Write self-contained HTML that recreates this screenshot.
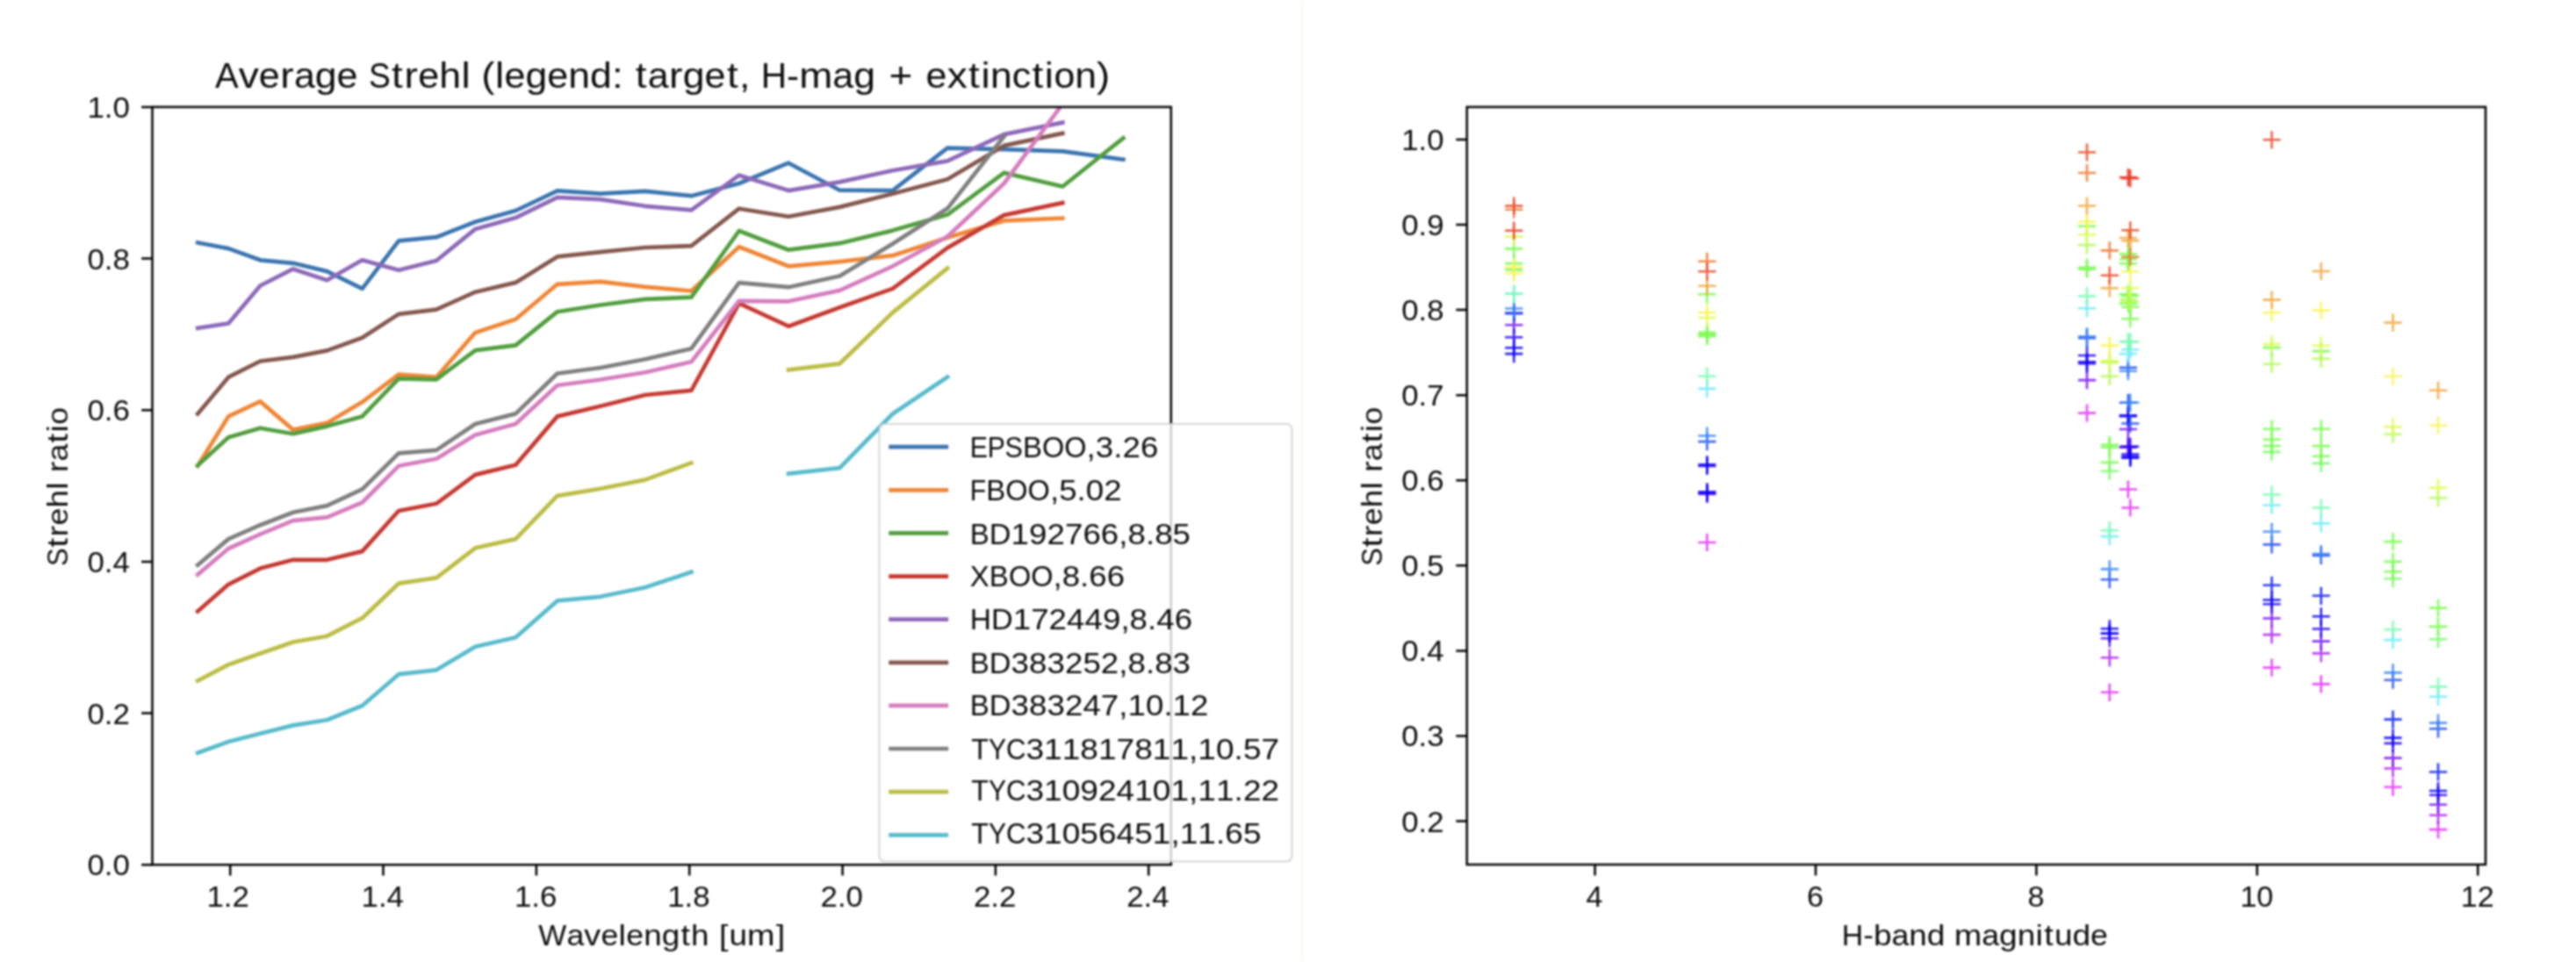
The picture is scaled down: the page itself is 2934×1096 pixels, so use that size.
<!DOCTYPE html>
<html lang="en"><head><meta charset="utf-8"><title>Strehl ratio charts</title>
<style>html,body{margin:0;padding:0;background:#fff;}body{width:2934px;height:1096px;overflow:hidden;}svg{display:block;filter:blur(0.8px);}text{font-family:"Liberation Sans",sans-serif;fill:#0d0d0d;}</style></head><body>
<svg width="2934" height="1096" viewBox="0 0 2934 1096">
<defs><clipPath id="cl"><rect x="173.5" y="121.9" width="1160.3" height="863.3"/></clipPath></defs>
<rect width="2934" height="1096" fill="#ffffff"/>
<rect x="1481.5" y="0" width="2" height="1096" fill="#fcfaee"/>
<g id="left">
<g clip-path="url(#cl)" fill="none" stroke-width="4.7" stroke-linejoin="round" stroke-linecap="square">
<path d="M225.2 276.5 L260.2 283.1 L296.4 296.3 L333.8 299.8 L372.5 309.1 L412.6 328.9 L454.1 274.4 L497.0 270.2 L541.4 252.8 L587.3 240.0 L634.8 217.4 L683.9 220.7 L734.8 217.8 L787.4 223.2 L841.8 209.0 L898.1 185.7 L956.4 216.7 L1016.7 217.2 L1079.1 168.7 L1143.6 170.2 L1210.3 172.4 L1279.4 181.7" stroke="#3b75af"/>
<path d="M225.2 530.8 L260.2 474.4 L296.4 457.4 L333.8 489.6 L372.5 481.9 L412.6 458.1 L454.1 426.6 L497.0 429.7 L541.4 378.9 L587.3 363.8 L634.8 323.8 L683.9 320.8 L734.8 326.8 L787.4 331.5 L841.8 281.2 L898.1 303.3 L956.4 298.2 L1016.7 291.2 L1079.1 270.7 L1143.6 251.4 L1210.3 248.6" stroke="#ef8636"/>
<path d="M225.2 530.3 L260.2 498.2 L296.4 487.7 L333.8 494.2 L372.5 485.6 L412.6 474.4 L454.1 431.3 L497.0 432.4 L541.4 399.2 L587.3 393.3 L634.8 355.2 L683.9 347.5 L734.8 340.9 L787.4 338.7 L841.8 263.0 L898.1 284.7 L956.4 277.2 L1016.7 262.6 L1079.1 244.6 L1143.6 196.9 L1210.3 212.5 L1279.4 157.3" stroke="#519e3e"/>
<path d="M225.2 696.5 L260.2 665.8 L296.4 647.6 L333.8 637.8 L372.5 637.8 L412.6 628.1 L454.1 582.0 L497.0 573.8 L541.4 540.9 L587.3 529.8 L634.8 474.4 L683.9 462.7 L734.8 450.0 L787.4 444.9 L841.8 345.6 L898.1 371.7 L956.4 350.2 L1016.7 328.9 L1079.1 282.4 L1143.6 245.1 L1210.3 231.1" stroke="#c53a32"/>
<path d="M225.2 373.8 L260.2 368.5 L296.4 325.5 L333.8 306.4 L372.5 319.2 L412.6 296.3 L454.1 307.7 L497.0 297.0 L541.4 260.9 L587.3 248.1 L634.8 224.8 L683.9 227.1 L734.8 234.8 L787.4 239.4 L841.8 199.7 L898.1 217.1 L956.4 207.4 L1016.7 194.2 L1079.1 183.4 L1143.6 153.1 L1210.3 139.6" stroke="#8d69b8"/>
<path d="M225.2 471.4 L260.2 429.7 L296.4 411.5 L333.8 406.9 L372.5 399.4 L412.6 384.7 L454.1 357.9 L497.0 352.6 L541.4 332.7 L587.3 321.9 L634.8 292.4 L683.9 287.2 L734.8 282.0 L787.4 280.1 L841.8 237.7 L898.1 246.7 L956.4 235.9 L1016.7 220.7 L1079.1 204.3 L1143.6 165.9 L1210.3 151.9" stroke="#84584e"/>
<path d="M225.2 654.6 L260.2 625.0 L296.4 608.7 L333.8 593.1 L372.5 589.4 L412.6 572.5 L454.1 530.8 L497.0 522.8 L541.4 495.4 L587.3 483.0 L634.8 439.0 L683.9 432.5 L734.8 424.3 L787.4 412.3 L841.8 342.8 L898.1 343.3 L956.4 330.9 L1016.7 303.3 L1079.1 269.5 L1143.6 209.0 L1210.3 118.4" stroke="#d57dbe"/>
<path d="M225.2 643.7 L260.2 614.1 L296.4 598.2 L333.8 583.8 L372.5 576.1 L412.6 557.4 L454.1 516.3 L497.0 512.9 L541.4 483.0 L587.3 471.4 L634.8 425.5 L683.9 419.0 L734.8 409.2 L787.4 397.2 L841.8 322.2 L898.1 327.2 L956.4 314.5 L1016.7 277.7 L1079.1 237.6 L1143.6 155.4" stroke="#7f7f7f"/>
<path d="M225.2 775.6 L260.2 757.2 L296.4 744.5 L333.8 731.5 L372.5 724.7 L412.6 704.2 L454.1 664.7 L497.0 658.4 L541.4 624.3 L587.3 614.1 L634.8 564.9 L683.9 556.7 L734.8 546.6 L787.4 527.4 M898.1 421.3 L956.4 414.3 L1016.7 356.1 L1079.1 305.6" stroke="#bcbd45"/>
<path d="M225.2 857.8 L260.2 845.0 L296.4 835.7 L333.8 826.4 L372.5 820.3 L412.6 804.0 L454.1 768.2 L497.0 763.3 L541.4 736.8 L587.3 726.3 L634.8 684.4 L683.9 679.8 L734.8 669.2 L787.4 651.8 M898.1 539.7 L956.4 533.2 L1016.7 471.5 L1079.1 429.5" stroke="#58bbcc"/>
</g>
<rect x="173.5" y="121.9" width="1160.3" height="863.3" fill="none" stroke="#000" stroke-width="2.5"/>
<path d="M262.2 985.2 v12.4 M436.5 985.2 v12.4 M610.9 985.2 v12.4 M785.2 985.2 v12.4 M959.6 985.2 v12.4 M1133.9 985.2 v12.4 M1308.2 985.2 v12.4 M173.5 985.2 h-12.4 M173.5 812.5 h-12.4 M173.5 639.9 h-12.4 M173.5 467.2 h-12.4 M173.5 294.6 h-12.4 M173.5 121.9 h-12.4" stroke="#000" stroke-width="2.5" fill="none"/>
<text x="235.4" y="1033.4" font-size="33.5" textLength="19.4" lengthAdjust="spacingAndGlyphs">1</text>
<text x="254.8" y="1033.4" font-size="33.5" textLength="9.7" lengthAdjust="spacingAndGlyphs">.</text>
<text x="264.4" y="1033.4" font-size="33.5" textLength="19.4" lengthAdjust="spacingAndGlyphs">2</text>
<text x="411.5" y="1033.4" font-size="33.5" textLength="19.4" lengthAdjust="spacingAndGlyphs">1</text>
<text x="430.9" y="1033.4" font-size="33.5" textLength="9.7" lengthAdjust="spacingAndGlyphs">.</text>
<text x="440.6" y="1033.4" font-size="33.5" textLength="19.4" lengthAdjust="spacingAndGlyphs">4</text>
<text x="585.9" y="1033.4" font-size="33.5" textLength="19.4" lengthAdjust="spacingAndGlyphs">1</text>
<text x="605.2" y="1033.4" font-size="33.5" textLength="9.7" lengthAdjust="spacingAndGlyphs">.</text>
<text x="614.9" y="1033.4" font-size="33.5" textLength="19.4" lengthAdjust="spacingAndGlyphs">6</text>
<text x="760.2" y="1033.4" font-size="33.5" textLength="19.4" lengthAdjust="spacingAndGlyphs">1</text>
<text x="779.6" y="1033.4" font-size="33.5" textLength="9.7" lengthAdjust="spacingAndGlyphs">.</text>
<text x="789.3" y="1033.4" font-size="33.5" textLength="19.4" lengthAdjust="spacingAndGlyphs">8</text>
<text x="934.5" y="1033.4" font-size="33.5" textLength="19.4" lengthAdjust="spacingAndGlyphs">2</text>
<text x="953.9" y="1033.4" font-size="33.5" textLength="9.7" lengthAdjust="spacingAndGlyphs">.</text>
<text x="963.6" y="1033.4" font-size="33.5" textLength="19.4" lengthAdjust="spacingAndGlyphs">0</text>
<text x="1108.9" y="1033.4" font-size="33.5" textLength="19.4" lengthAdjust="spacingAndGlyphs">2</text>
<text x="1128.3" y="1033.4" font-size="33.5" textLength="9.7" lengthAdjust="spacingAndGlyphs">.</text>
<text x="1137.9" y="1033.4" font-size="33.5" textLength="19.4" lengthAdjust="spacingAndGlyphs">2</text>
<text x="1283.2" y="1033.4" font-size="33.5" textLength="19.4" lengthAdjust="spacingAndGlyphs">2</text>
<text x="1302.6" y="1033.4" font-size="33.5" textLength="9.7" lengthAdjust="spacingAndGlyphs">.</text>
<text x="1312.3" y="1033.4" font-size="33.5" textLength="19.4" lengthAdjust="spacingAndGlyphs">4</text>
<text x="99.4" y="997.2" font-size="33.5" textLength="19.4" lengthAdjust="spacingAndGlyphs">0</text>
<text x="118.7" y="997.2" font-size="33.5" textLength="9.7" lengthAdjust="spacingAndGlyphs">.</text>
<text x="128.4" y="997.2" font-size="33.5" textLength="19.4" lengthAdjust="spacingAndGlyphs">0</text>
<text x="99.4" y="824.5" font-size="33.5" textLength="19.4" lengthAdjust="spacingAndGlyphs">0</text>
<text x="118.7" y="824.5" font-size="33.5" textLength="9.7" lengthAdjust="spacingAndGlyphs">.</text>
<text x="128.4" y="824.5" font-size="33.5" textLength="19.4" lengthAdjust="spacingAndGlyphs">2</text>
<text x="99.4" y="651.9" font-size="33.5" textLength="19.4" lengthAdjust="spacingAndGlyphs">0</text>
<text x="118.7" y="651.9" font-size="33.5" textLength="9.7" lengthAdjust="spacingAndGlyphs">.</text>
<text x="128.4" y="651.9" font-size="33.5" textLength="19.4" lengthAdjust="spacingAndGlyphs">4</text>
<text x="99.4" y="479.2" font-size="33.5" textLength="19.4" lengthAdjust="spacingAndGlyphs">0</text>
<text x="118.7" y="479.2" font-size="33.5" textLength="9.7" lengthAdjust="spacingAndGlyphs">.</text>
<text x="128.4" y="479.2" font-size="33.5" textLength="19.4" lengthAdjust="spacingAndGlyphs">6</text>
<text x="99.4" y="306.6" font-size="33.5" textLength="19.4" lengthAdjust="spacingAndGlyphs">0</text>
<text x="118.7" y="306.6" font-size="33.5" textLength="9.7" lengthAdjust="spacingAndGlyphs">.</text>
<text x="128.4" y="306.6" font-size="33.5" textLength="19.4" lengthAdjust="spacingAndGlyphs">8</text>
<text x="99.4" y="133.9" font-size="33.5" textLength="19.4" lengthAdjust="spacingAndGlyphs">1</text>
<text x="118.7" y="133.9" font-size="33.5" textLength="9.7" lengthAdjust="spacingAndGlyphs">.</text>
<text x="128.4" y="133.9" font-size="33.5" textLength="19.4" lengthAdjust="spacingAndGlyphs">0</text>
<text x="613.3" y="1077.0" font-size="33.5" textLength="32.0" lengthAdjust="spacingAndGlyphs">W</text>
<text x="645.4" y="1077.0" font-size="33.5" textLength="19.9" lengthAdjust="spacingAndGlyphs">a</text>
<text x="665.3" y="1077.0" font-size="33.5" textLength="18.9" lengthAdjust="spacingAndGlyphs">v</text>
<text x="684.4" y="1077.0" font-size="33.5" textLength="19.9" lengthAdjust="spacingAndGlyphs">e</text>
<text x="704.6" y="1077.0" font-size="33.5" textLength="8.4" lengthAdjust="spacingAndGlyphs">l</text>
<text x="713.3" y="1077.0" font-size="33.5" textLength="19.9" lengthAdjust="spacingAndGlyphs">e</text>
<text x="733.3" y="1077.0" font-size="33.5" textLength="20.5" lengthAdjust="spacingAndGlyphs">n</text>
<text x="753.8" y="1077.0" font-size="33.5" textLength="20.6" lengthAdjust="spacingAndGlyphs">g</text>
<text x="775.5" y="1077.0" font-size="33.5" textLength="10.5" lengthAdjust="spacingAndGlyphs">t</text>
<text x="787.1" y="1077.0" font-size="33.5" textLength="20.5" lengthAdjust="spacingAndGlyphs">h</text>
<text x="819.0" y="1077.0" font-size="33.5" textLength="10.5" lengthAdjust="spacingAndGlyphs">[</text>
<text x="830.5" y="1077.0" font-size="33.5" textLength="20.5" lengthAdjust="spacingAndGlyphs">u</text>
<text x="851.1" y="1077.0" font-size="33.5" textLength="31.5" lengthAdjust="spacingAndGlyphs">m</text>
<text x="883.7" y="1077.0" font-size="33.5" textLength="10.5" lengthAdjust="spacingAndGlyphs">]</text>
<g transform="rotate(-90 76.5 554.5)">
<text x="-14.0" y="554.5" font-size="33.5" textLength="20.6" lengthAdjust="spacingAndGlyphs">S</text>
<text x="7.6" y="554.5" font-size="33.5" textLength="10.5" lengthAdjust="spacingAndGlyphs">t</text>
<text x="19.6" y="554.5" font-size="33.5" textLength="12.6" lengthAdjust="spacingAndGlyphs">r</text>
<text x="32.6" y="554.5" font-size="33.5" textLength="19.9" lengthAdjust="spacingAndGlyphs">e</text>
<text x="52.5" y="554.5" font-size="33.5" textLength="20.5" lengthAdjust="spacingAndGlyphs">h</text>
<text x="73.3" y="554.5" font-size="33.5" textLength="8.4" lengthAdjust="spacingAndGlyphs">l</text>
<text x="92.7" y="554.5" font-size="33.5" textLength="12.6" lengthAdjust="spacingAndGlyphs">r</text>
<text x="105.6" y="554.5" font-size="33.5" textLength="19.9" lengthAdjust="spacingAndGlyphs">a</text>
<text x="126.6" y="554.5" font-size="33.5" textLength="10.5" lengthAdjust="spacingAndGlyphs">t</text>
<text x="138.5" y="554.5" font-size="33.5" textLength="8.4" lengthAdjust="spacingAndGlyphs">i</text>
<text x="147.2" y="554.5" font-size="33.5" textLength="19.8" lengthAdjust="spacingAndGlyphs">o</text>
</g>
<text x="244.9" y="99.8" font-size="40.8" textLength="26.7" lengthAdjust="spacingAndGlyphs">A</text>
<text x="271.7" y="99.8" font-size="40.8" textLength="23.1" lengthAdjust="spacingAndGlyphs">v</text>
<text x="294.8" y="99.8" font-size="40.8" textLength="24.0" lengthAdjust="spacingAndGlyphs">e</text>
<text x="319.2" y="99.8" font-size="40.8" textLength="15.4" lengthAdjust="spacingAndGlyphs">r</text>
<text x="334.9" y="99.8" font-size="40.8" textLength="23.9" lengthAdjust="spacingAndGlyphs">a</text>
<text x="358.8" y="99.8" font-size="40.8" textLength="24.8" lengthAdjust="spacingAndGlyphs">g</text>
<text x="383.6" y="99.8" font-size="40.8" textLength="24.0" lengthAdjust="spacingAndGlyphs">e</text>
<text x="420.1" y="99.8" font-size="40.8" textLength="24.8" lengthAdjust="spacingAndGlyphs">S</text>
<text x="446.1" y="99.8" font-size="40.8" textLength="12.8" lengthAdjust="spacingAndGlyphs">t</text>
<text x="460.5" y="99.8" font-size="40.8" textLength="15.4" lengthAdjust="spacingAndGlyphs">r</text>
<text x="476.3" y="99.8" font-size="40.8" textLength="24.0" lengthAdjust="spacingAndGlyphs">e</text>
<text x="500.3" y="99.8" font-size="40.8" textLength="24.8" lengthAdjust="spacingAndGlyphs">h</text>
<text x="525.4" y="99.8" font-size="40.8" textLength="10.2" lengthAdjust="spacingAndGlyphs">l</text>
<text x="548.3" y="99.8" font-size="40.8" textLength="15.2" lengthAdjust="spacingAndGlyphs">(</text>
<text x="563.9" y="99.8" font-size="40.8" textLength="10.2" lengthAdjust="spacingAndGlyphs">l</text>
<text x="574.4" y="99.8" font-size="40.8" textLength="24.0" lengthAdjust="spacingAndGlyphs">e</text>
<text x="598.5" y="99.8" font-size="40.8" textLength="24.8" lengthAdjust="spacingAndGlyphs">g</text>
<text x="623.3" y="99.8" font-size="40.8" textLength="24.0" lengthAdjust="spacingAndGlyphs">e</text>
<text x="647.3" y="99.8" font-size="40.8" textLength="24.8" lengthAdjust="spacingAndGlyphs">n</text>
<text x="672.1" y="99.8" font-size="40.8" textLength="24.8" lengthAdjust="spacingAndGlyphs">d</text>
<text x="697.0" y="99.8" font-size="40.8" textLength="12.8" lengthAdjust="spacingAndGlyphs">:</text>
<text x="723.7" y="99.8" font-size="40.8" textLength="12.8" lengthAdjust="spacingAndGlyphs">t</text>
<text x="737.8" y="99.8" font-size="40.8" textLength="23.9" lengthAdjust="spacingAndGlyphs">a</text>
<text x="762.1" y="99.8" font-size="40.8" textLength="15.4" lengthAdjust="spacingAndGlyphs">r</text>
<text x="777.8" y="99.8" font-size="40.8" textLength="24.8" lengthAdjust="spacingAndGlyphs">g</text>
<text x="802.6" y="99.8" font-size="40.8" textLength="24.0" lengthAdjust="spacingAndGlyphs">e</text>
<text x="827.9" y="99.8" font-size="40.8" textLength="12.8" lengthAdjust="spacingAndGlyphs">t</text>
<text x="841.9" y="99.8" font-size="40.8" textLength="12.4" lengthAdjust="spacingAndGlyphs">,</text>
<text x="866.8" y="99.8" font-size="40.8" textLength="29.4" lengthAdjust="spacingAndGlyphs">H</text>
<text x="896.1" y="99.8" font-size="40.8" textLength="14.1" lengthAdjust="spacingAndGlyphs">-</text>
<text x="910.2" y="99.8" font-size="40.8" textLength="38.1" lengthAdjust="spacingAndGlyphs">m</text>
<text x="948.3" y="99.8" font-size="40.8" textLength="23.9" lengthAdjust="spacingAndGlyphs">a</text>
<text x="972.2" y="99.8" font-size="40.8" textLength="24.8" lengthAdjust="spacingAndGlyphs">g</text>
<text x="1012.4" y="99.8" font-size="40.8" textLength="26.9" lengthAdjust="spacingAndGlyphs">+</text>
<text x="1054.6" y="99.8" font-size="40.8" textLength="24.0" lengthAdjust="spacingAndGlyphs">e</text>
<text x="1078.7" y="99.8" font-size="40.8" textLength="23.1" lengthAdjust="spacingAndGlyphs">x</text>
<text x="1103.0" y="99.8" font-size="40.8" textLength="12.8" lengthAdjust="spacingAndGlyphs">t</text>
<text x="1117.4" y="99.8" font-size="40.8" textLength="10.2" lengthAdjust="spacingAndGlyphs">i</text>
<text x="1127.9" y="99.8" font-size="40.8" textLength="24.8" lengthAdjust="spacingAndGlyphs">n</text>
<text x="1152.7" y="99.8" font-size="40.8" textLength="21.5" lengthAdjust="spacingAndGlyphs">c</text>
<text x="1175.4" y="99.8" font-size="40.8" textLength="12.8" lengthAdjust="spacingAndGlyphs">t</text>
<text x="1189.8" y="99.8" font-size="40.8" textLength="10.2" lengthAdjust="spacingAndGlyphs">i</text>
<text x="1200.4" y="99.8" font-size="40.8" textLength="23.9" lengthAdjust="spacingAndGlyphs">o</text>
<text x="1224.3" y="99.8" font-size="40.8" textLength="24.8" lengthAdjust="spacingAndGlyphs">n</text>
<text x="1249.0" y="99.8" font-size="40.8" textLength="15.2" lengthAdjust="spacingAndGlyphs">)</text>
<rect x="1001.5" y="483.0" width="470.0" height="498.5" rx="6" ry="6" fill="#ffffff" fill-opacity="0.8" stroke="#cccccc" stroke-opacity="0.8" stroke-width="2.0"/>
<path d="M1014.6 509.2 H1077.8" stroke="#3b75af" stroke-width="4.7" stroke-linecap="square" fill="none"/>
<text x="1104.8" y="520.9" font-size="33.5" textLength="20.3" lengthAdjust="spacingAndGlyphs">E</text>
<text x="1124.7" y="520.9" font-size="33.5" textLength="20.1" lengthAdjust="spacingAndGlyphs">P</text>
<text x="1144.5" y="520.9" font-size="33.5" textLength="20.4" lengthAdjust="spacingAndGlyphs">S</text>
<text x="1164.9" y="520.9" font-size="33.5" textLength="22.0" lengthAdjust="spacingAndGlyphs">B</text>
<text x="1186.9" y="520.9" font-size="33.5" textLength="25.3" lengthAdjust="spacingAndGlyphs">O</text>
<text x="1212.2" y="520.9" font-size="33.5" textLength="25.3" lengthAdjust="spacingAndGlyphs">O</text>
<text x="1237.5" y="520.9" font-size="33.5" textLength="10.2" lengthAdjust="spacingAndGlyphs">,</text>
<text x="1247.8" y="520.9" font-size="33.5" textLength="20.4" lengthAdjust="spacingAndGlyphs">3</text>
<text x="1268.2" y="520.9" font-size="33.5" textLength="10.2" lengthAdjust="spacingAndGlyphs">.</text>
<text x="1278.4" y="520.9" font-size="33.5" textLength="20.4" lengthAdjust="spacingAndGlyphs">2</text>
<text x="1298.9" y="520.9" font-size="33.5" textLength="20.4" lengthAdjust="spacingAndGlyphs">6</text>
<path d="M1014.6 558.3 H1077.8" stroke="#ef8636" stroke-width="4.7" stroke-linecap="square" fill="none"/>
<text x="1104.8" y="570.4" font-size="33.5" textLength="18.5" lengthAdjust="spacingAndGlyphs">F</text>
<text x="1123.3" y="570.4" font-size="33.5" textLength="22.0" lengthAdjust="spacingAndGlyphs">B</text>
<text x="1145.3" y="570.4" font-size="33.5" textLength="25.3" lengthAdjust="spacingAndGlyphs">O</text>
<text x="1170.6" y="570.4" font-size="33.5" textLength="25.3" lengthAdjust="spacingAndGlyphs">O</text>
<text x="1195.9" y="570.4" font-size="33.5" textLength="10.2" lengthAdjust="spacingAndGlyphs">,</text>
<text x="1206.2" y="570.4" font-size="33.5" textLength="20.4" lengthAdjust="spacingAndGlyphs">5</text>
<text x="1226.6" y="570.4" font-size="33.5" textLength="10.2" lengthAdjust="spacingAndGlyphs">.</text>
<text x="1236.8" y="570.4" font-size="33.5" textLength="20.4" lengthAdjust="spacingAndGlyphs">0</text>
<text x="1257.3" y="570.4" font-size="33.5" textLength="20.4" lengthAdjust="spacingAndGlyphs">2</text>
<path d="M1014.6 607.4 H1077.8" stroke="#519e3e" stroke-width="4.7" stroke-linecap="square" fill="none"/>
<text x="1104.8" y="619.5" font-size="33.5" textLength="22.0" lengthAdjust="spacingAndGlyphs">B</text>
<text x="1126.8" y="619.5" font-size="33.5" textLength="24.7" lengthAdjust="spacingAndGlyphs">D</text>
<text x="1151.6" y="619.5" font-size="33.5" textLength="20.4" lengthAdjust="spacingAndGlyphs">1</text>
<text x="1172.0" y="619.5" font-size="33.5" textLength="20.4" lengthAdjust="spacingAndGlyphs">9</text>
<text x="1192.5" y="619.5" font-size="33.5" textLength="20.4" lengthAdjust="spacingAndGlyphs">2</text>
<text x="1212.9" y="619.5" font-size="33.5" textLength="20.4" lengthAdjust="spacingAndGlyphs">7</text>
<text x="1233.4" y="619.5" font-size="33.5" textLength="20.4" lengthAdjust="spacingAndGlyphs">6</text>
<text x="1253.8" y="619.5" font-size="33.5" textLength="20.4" lengthAdjust="spacingAndGlyphs">6</text>
<text x="1274.3" y="619.5" font-size="33.5" textLength="10.2" lengthAdjust="spacingAndGlyphs">,</text>
<text x="1284.5" y="619.5" font-size="33.5" textLength="20.4" lengthAdjust="spacingAndGlyphs">8</text>
<text x="1305.0" y="619.5" font-size="33.5" textLength="10.2" lengthAdjust="spacingAndGlyphs">.</text>
<text x="1315.2" y="619.5" font-size="33.5" textLength="20.4" lengthAdjust="spacingAndGlyphs">8</text>
<text x="1335.6" y="619.5" font-size="33.5" textLength="20.4" lengthAdjust="spacingAndGlyphs">5</text>
<path d="M1014.6 656.6 H1077.8" stroke="#c53a32" stroke-width="4.7" stroke-linecap="square" fill="none"/>
<text x="1104.8" y="668.3" font-size="33.5" textLength="22.0" lengthAdjust="spacingAndGlyphs">X</text>
<text x="1126.8" y="668.3" font-size="33.5" textLength="22.0" lengthAdjust="spacingAndGlyphs">B</text>
<text x="1148.9" y="668.3" font-size="33.5" textLength="25.3" lengthAdjust="spacingAndGlyphs">O</text>
<text x="1174.2" y="668.3" font-size="33.5" textLength="25.3" lengthAdjust="spacingAndGlyphs">O</text>
<text x="1199.5" y="668.3" font-size="33.5" textLength="10.2" lengthAdjust="spacingAndGlyphs">,</text>
<text x="1209.7" y="668.3" font-size="33.5" textLength="20.4" lengthAdjust="spacingAndGlyphs">8</text>
<text x="1230.1" y="668.3" font-size="33.5" textLength="10.2" lengthAdjust="spacingAndGlyphs">.</text>
<text x="1240.3" y="668.3" font-size="33.5" textLength="20.4" lengthAdjust="spacingAndGlyphs">6</text>
<text x="1260.8" y="668.3" font-size="33.5" textLength="20.4" lengthAdjust="spacingAndGlyphs">6</text>
<path d="M1014.6 705.7 H1077.8" stroke="#8d69b8" stroke-width="4.7" stroke-linecap="square" fill="none"/>
<text x="1104.8" y="717.2" font-size="33.5" textLength="24.2" lengthAdjust="spacingAndGlyphs">H</text>
<text x="1129.0" y="717.2" font-size="33.5" textLength="24.7" lengthAdjust="spacingAndGlyphs">D</text>
<text x="1153.7" y="717.2" font-size="33.5" textLength="20.4" lengthAdjust="spacingAndGlyphs">1</text>
<text x="1174.2" y="717.2" font-size="33.5" textLength="20.4" lengthAdjust="spacingAndGlyphs">7</text>
<text x="1194.6" y="717.2" font-size="33.5" textLength="20.4" lengthAdjust="spacingAndGlyphs">2</text>
<text x="1215.1" y="717.2" font-size="33.5" textLength="20.4" lengthAdjust="spacingAndGlyphs">4</text>
<text x="1235.5" y="717.2" font-size="33.5" textLength="20.4" lengthAdjust="spacingAndGlyphs">4</text>
<text x="1256.0" y="717.2" font-size="33.5" textLength="20.4" lengthAdjust="spacingAndGlyphs">9</text>
<text x="1276.4" y="717.2" font-size="33.5" textLength="10.2" lengthAdjust="spacingAndGlyphs">,</text>
<text x="1286.6" y="717.2" font-size="33.5" textLength="20.4" lengthAdjust="spacingAndGlyphs">8</text>
<text x="1307.1" y="717.2" font-size="33.5" textLength="10.2" lengthAdjust="spacingAndGlyphs">.</text>
<text x="1317.3" y="717.2" font-size="33.5" textLength="20.4" lengthAdjust="spacingAndGlyphs">4</text>
<text x="1337.7" y="717.2" font-size="33.5" textLength="20.4" lengthAdjust="spacingAndGlyphs">6</text>
<path d="M1014.6 754.8 H1077.8" stroke="#84584e" stroke-width="4.7" stroke-linecap="square" fill="none"/>
<text x="1104.8" y="766.6" font-size="33.5" textLength="22.0" lengthAdjust="spacingAndGlyphs">B</text>
<text x="1126.8" y="766.6" font-size="33.5" textLength="24.7" lengthAdjust="spacingAndGlyphs">D</text>
<text x="1151.6" y="766.6" font-size="33.5" textLength="20.4" lengthAdjust="spacingAndGlyphs">3</text>
<text x="1172.0" y="766.6" font-size="33.5" textLength="20.4" lengthAdjust="spacingAndGlyphs">8</text>
<text x="1192.5" y="766.6" font-size="33.5" textLength="20.4" lengthAdjust="spacingAndGlyphs">3</text>
<text x="1212.9" y="766.6" font-size="33.5" textLength="20.4" lengthAdjust="spacingAndGlyphs">2</text>
<text x="1233.4" y="766.6" font-size="33.5" textLength="20.4" lengthAdjust="spacingAndGlyphs">5</text>
<text x="1253.8" y="766.6" font-size="33.5" textLength="20.4" lengthAdjust="spacingAndGlyphs">2</text>
<text x="1274.3" y="766.6" font-size="33.5" textLength="10.2" lengthAdjust="spacingAndGlyphs">,</text>
<text x="1284.5" y="766.6" font-size="33.5" textLength="20.4" lengthAdjust="spacingAndGlyphs">8</text>
<text x="1305.0" y="766.6" font-size="33.5" textLength="10.2" lengthAdjust="spacingAndGlyphs">.</text>
<text x="1315.2" y="766.6" font-size="33.5" textLength="20.4" lengthAdjust="spacingAndGlyphs">8</text>
<text x="1335.6" y="766.6" font-size="33.5" textLength="20.4" lengthAdjust="spacingAndGlyphs">3</text>
<path d="M1014.6 803.9 H1077.8" stroke="#d57dbe" stroke-width="4.7" stroke-linecap="square" fill="none"/>
<text x="1104.8" y="815.4" font-size="33.5" textLength="22.0" lengthAdjust="spacingAndGlyphs">B</text>
<text x="1126.8" y="815.4" font-size="33.5" textLength="24.7" lengthAdjust="spacingAndGlyphs">D</text>
<text x="1151.6" y="815.4" font-size="33.5" textLength="20.4" lengthAdjust="spacingAndGlyphs">3</text>
<text x="1172.0" y="815.4" font-size="33.5" textLength="20.4" lengthAdjust="spacingAndGlyphs">8</text>
<text x="1192.5" y="815.4" font-size="33.5" textLength="20.4" lengthAdjust="spacingAndGlyphs">3</text>
<text x="1212.9" y="815.4" font-size="33.5" textLength="20.4" lengthAdjust="spacingAndGlyphs">2</text>
<text x="1233.4" y="815.4" font-size="33.5" textLength="20.4" lengthAdjust="spacingAndGlyphs">4</text>
<text x="1253.8" y="815.4" font-size="33.5" textLength="20.4" lengthAdjust="spacingAndGlyphs">7</text>
<text x="1274.3" y="815.4" font-size="33.5" textLength="10.2" lengthAdjust="spacingAndGlyphs">,</text>
<text x="1284.5" y="815.4" font-size="33.5" textLength="20.4" lengthAdjust="spacingAndGlyphs">1</text>
<text x="1305.0" y="815.4" font-size="33.5" textLength="20.4" lengthAdjust="spacingAndGlyphs">0</text>
<text x="1325.4" y="815.4" font-size="33.5" textLength="10.2" lengthAdjust="spacingAndGlyphs">.</text>
<text x="1335.6" y="815.4" font-size="33.5" textLength="20.4" lengthAdjust="spacingAndGlyphs">1</text>
<text x="1356.1" y="815.4" font-size="33.5" textLength="20.4" lengthAdjust="spacingAndGlyphs">2</text>
<path d="M1014.6 853.0 H1077.8" stroke="#7f7f7f" stroke-width="4.7" stroke-linecap="square" fill="none"/>
<text x="1106.3" y="864.5" font-size="33.5" textLength="19.8" lengthAdjust="spacingAndGlyphs">T</text>
<text x="1125.9" y="864.5" font-size="33.5" textLength="20.1" lengthAdjust="spacingAndGlyphs">Y</text>
<text x="1145.9" y="864.5" font-size="33.5" textLength="22.6" lengthAdjust="spacingAndGlyphs">C</text>
<text x="1168.5" y="864.5" font-size="33.5" textLength="20.6" lengthAdjust="spacingAndGlyphs">3</text>
<text x="1189.1" y="864.5" font-size="33.5" textLength="20.6" lengthAdjust="spacingAndGlyphs">1</text>
<text x="1209.7" y="864.5" font-size="33.5" textLength="20.6" lengthAdjust="spacingAndGlyphs">1</text>
<text x="1230.3" y="864.5" font-size="33.5" textLength="20.6" lengthAdjust="spacingAndGlyphs">8</text>
<text x="1251.0" y="864.5" font-size="33.5" textLength="20.6" lengthAdjust="spacingAndGlyphs">1</text>
<text x="1271.6" y="864.5" font-size="33.5" textLength="20.6" lengthAdjust="spacingAndGlyphs">7</text>
<text x="1292.2" y="864.5" font-size="33.5" textLength="20.6" lengthAdjust="spacingAndGlyphs">8</text>
<text x="1312.8" y="864.5" font-size="33.5" textLength="20.6" lengthAdjust="spacingAndGlyphs">1</text>
<text x="1333.4" y="864.5" font-size="33.5" textLength="20.6" lengthAdjust="spacingAndGlyphs">1</text>
<text x="1354.0" y="864.5" font-size="33.5" textLength="10.3" lengthAdjust="spacingAndGlyphs">,</text>
<text x="1364.3" y="864.5" font-size="33.5" textLength="20.6" lengthAdjust="spacingAndGlyphs">1</text>
<text x="1384.9" y="864.5" font-size="33.5" textLength="20.6" lengthAdjust="spacingAndGlyphs">0</text>
<text x="1405.6" y="864.5" font-size="33.5" textLength="10.3" lengthAdjust="spacingAndGlyphs">.</text>
<text x="1415.9" y="864.5" font-size="33.5" textLength="20.6" lengthAdjust="spacingAndGlyphs">5</text>
<text x="1436.5" y="864.5" font-size="33.5" textLength="20.6" lengthAdjust="spacingAndGlyphs">7</text>
<path d="M1014.6 902.2 H1077.8" stroke="#bcbd45" stroke-width="4.7" stroke-linecap="square" fill="none"/>
<text x="1106.3" y="912.4" font-size="33.5" textLength="19.8" lengthAdjust="spacingAndGlyphs">T</text>
<text x="1125.9" y="912.4" font-size="33.5" textLength="20.1" lengthAdjust="spacingAndGlyphs">Y</text>
<text x="1145.9" y="912.4" font-size="33.5" textLength="22.6" lengthAdjust="spacingAndGlyphs">C</text>
<text x="1168.5" y="912.4" font-size="33.5" textLength="20.6" lengthAdjust="spacingAndGlyphs">3</text>
<text x="1189.1" y="912.4" font-size="33.5" textLength="20.6" lengthAdjust="spacingAndGlyphs">1</text>
<text x="1209.7" y="912.4" font-size="33.5" textLength="20.6" lengthAdjust="spacingAndGlyphs">0</text>
<text x="1230.3" y="912.4" font-size="33.5" textLength="20.6" lengthAdjust="spacingAndGlyphs">9</text>
<text x="1251.0" y="912.4" font-size="33.5" textLength="20.6" lengthAdjust="spacingAndGlyphs">2</text>
<text x="1271.6" y="912.4" font-size="33.5" textLength="20.6" lengthAdjust="spacingAndGlyphs">4</text>
<text x="1292.2" y="912.4" font-size="33.5" textLength="20.6" lengthAdjust="spacingAndGlyphs">1</text>
<text x="1312.8" y="912.4" font-size="33.5" textLength="20.6" lengthAdjust="spacingAndGlyphs">0</text>
<text x="1333.4" y="912.4" font-size="33.5" textLength="20.6" lengthAdjust="spacingAndGlyphs">1</text>
<text x="1354.0" y="912.4" font-size="33.5" textLength="10.3" lengthAdjust="spacingAndGlyphs">,</text>
<text x="1364.3" y="912.4" font-size="33.5" textLength="20.6" lengthAdjust="spacingAndGlyphs">1</text>
<text x="1384.9" y="912.4" font-size="33.5" textLength="20.6" lengthAdjust="spacingAndGlyphs">1</text>
<text x="1405.6" y="912.4" font-size="33.5" textLength="10.3" lengthAdjust="spacingAndGlyphs">.</text>
<text x="1415.9" y="912.4" font-size="33.5" textLength="20.6" lengthAdjust="spacingAndGlyphs">2</text>
<text x="1436.5" y="912.4" font-size="33.5" textLength="20.6" lengthAdjust="spacingAndGlyphs">2</text>
<path d="M1014.6 951.3 H1077.8" stroke="#58bbcc" stroke-width="4.7" stroke-linecap="square" fill="none"/>
<text x="1106.3" y="961.1" font-size="33.5" textLength="19.8" lengthAdjust="spacingAndGlyphs">T</text>
<text x="1125.9" y="961.1" font-size="33.5" textLength="20.1" lengthAdjust="spacingAndGlyphs">Y</text>
<text x="1145.9" y="961.1" font-size="33.5" textLength="22.6" lengthAdjust="spacingAndGlyphs">C</text>
<text x="1168.5" y="961.1" font-size="33.5" textLength="20.6" lengthAdjust="spacingAndGlyphs">3</text>
<text x="1189.1" y="961.1" font-size="33.5" textLength="20.6" lengthAdjust="spacingAndGlyphs">1</text>
<text x="1209.7" y="961.1" font-size="33.5" textLength="20.6" lengthAdjust="spacingAndGlyphs">0</text>
<text x="1230.3" y="961.1" font-size="33.5" textLength="20.6" lengthAdjust="spacingAndGlyphs">5</text>
<text x="1251.0" y="961.1" font-size="33.5" textLength="20.6" lengthAdjust="spacingAndGlyphs">6</text>
<text x="1271.6" y="961.1" font-size="33.5" textLength="20.6" lengthAdjust="spacingAndGlyphs">4</text>
<text x="1292.2" y="961.1" font-size="33.5" textLength="20.6" lengthAdjust="spacingAndGlyphs">5</text>
<text x="1312.8" y="961.1" font-size="33.5" textLength="20.6" lengthAdjust="spacingAndGlyphs">1</text>
<text x="1333.4" y="961.1" font-size="33.5" textLength="10.3" lengthAdjust="spacingAndGlyphs">,</text>
<text x="1343.7" y="961.1" font-size="33.5" textLength="20.6" lengthAdjust="spacingAndGlyphs">1</text>
<text x="1364.3" y="961.1" font-size="33.5" textLength="20.6" lengthAdjust="spacingAndGlyphs">1</text>
<text x="1384.9" y="961.1" font-size="33.5" textLength="10.3" lengthAdjust="spacingAndGlyphs">.</text>
<text x="1395.2" y="961.1" font-size="33.5" textLength="20.6" lengthAdjust="spacingAndGlyphs">6</text>
<text x="1415.9" y="961.1" font-size="33.5" textLength="20.6" lengthAdjust="spacingAndGlyphs">5</text>
</g>
<g id="right">
<rect x="1670.8" y="121.9" width="1160.2" height="863.1" fill="none" stroke="#000" stroke-width="2.5"/>
<path d="M1816.6 985.0 v12.4 M2068.0 985.0 v12.4 M2319.4 985.0 v12.4 M2570.8 985.0 v12.4 M2822.2 985.0 v12.4 M1670.8 935.5 h-12.4 M1670.8 838.4 h-12.4 M1670.8 741.4 h-12.4 M1670.8 644.3 h-12.4 M1670.8 547.2 h-12.4 M1670.8 450.2 h-12.4 M1670.8 353.1 h-12.4 M1670.8 256.1 h-12.4 M1670.8 159.0 h-12.4" stroke="#000" stroke-width="2.5" fill="none"/>
<text x="1806.6" y="1033.4" font-size="33.5" textLength="19.0" lengthAdjust="spacingAndGlyphs">4</text>
<text x="2058.0" y="1033.4" font-size="33.5" textLength="19.0" lengthAdjust="spacingAndGlyphs">6</text>
<text x="2309.4" y="1033.4" font-size="33.5" textLength="19.0" lengthAdjust="spacingAndGlyphs">8</text>
<text x="2551.4" y="1033.4" font-size="33.5" textLength="19.0" lengthAdjust="spacingAndGlyphs">1</text>
<text x="2570.3" y="1033.4" font-size="33.5" textLength="19.0" lengthAdjust="spacingAndGlyphs">0</text>
<text x="2802.8" y="1033.4" font-size="33.5" textLength="19.0" lengthAdjust="spacingAndGlyphs">1</text>
<text x="2821.7" y="1033.4" font-size="33.5" textLength="19.0" lengthAdjust="spacingAndGlyphs">2</text>
<text x="1596.2" y="947.5" font-size="33.5" textLength="19.4" lengthAdjust="spacingAndGlyphs">0</text>
<text x="1615.5" y="947.5" font-size="33.5" textLength="9.7" lengthAdjust="spacingAndGlyphs">.</text>
<text x="1625.2" y="947.5" font-size="33.5" textLength="19.4" lengthAdjust="spacingAndGlyphs">2</text>
<text x="1596.2" y="850.4" font-size="33.5" textLength="19.4" lengthAdjust="spacingAndGlyphs">0</text>
<text x="1615.5" y="850.4" font-size="33.5" textLength="9.7" lengthAdjust="spacingAndGlyphs">.</text>
<text x="1625.2" y="850.4" font-size="33.5" textLength="19.4" lengthAdjust="spacingAndGlyphs">3</text>
<text x="1596.2" y="753.4" font-size="33.5" textLength="19.4" lengthAdjust="spacingAndGlyphs">0</text>
<text x="1615.5" y="753.4" font-size="33.5" textLength="9.7" lengthAdjust="spacingAndGlyphs">.</text>
<text x="1625.2" y="753.4" font-size="33.5" textLength="19.4" lengthAdjust="spacingAndGlyphs">4</text>
<text x="1596.2" y="656.3" font-size="33.5" textLength="19.4" lengthAdjust="spacingAndGlyphs">0</text>
<text x="1615.5" y="656.3" font-size="33.5" textLength="9.7" lengthAdjust="spacingAndGlyphs">.</text>
<text x="1625.2" y="656.3" font-size="33.5" textLength="19.4" lengthAdjust="spacingAndGlyphs">5</text>
<text x="1596.2" y="559.2" font-size="33.5" textLength="19.4" lengthAdjust="spacingAndGlyphs">0</text>
<text x="1615.5" y="559.2" font-size="33.5" textLength="9.7" lengthAdjust="spacingAndGlyphs">.</text>
<text x="1625.2" y="559.2" font-size="33.5" textLength="19.4" lengthAdjust="spacingAndGlyphs">6</text>
<text x="1596.2" y="462.2" font-size="33.5" textLength="19.4" lengthAdjust="spacingAndGlyphs">0</text>
<text x="1615.5" y="462.2" font-size="33.5" textLength="9.7" lengthAdjust="spacingAndGlyphs">.</text>
<text x="1625.2" y="462.2" font-size="33.5" textLength="19.4" lengthAdjust="spacingAndGlyphs">7</text>
<text x="1596.2" y="365.1" font-size="33.5" textLength="19.4" lengthAdjust="spacingAndGlyphs">0</text>
<text x="1615.5" y="365.1" font-size="33.5" textLength="9.7" lengthAdjust="spacingAndGlyphs">.</text>
<text x="1625.2" y="365.1" font-size="33.5" textLength="19.4" lengthAdjust="spacingAndGlyphs">8</text>
<text x="1596.2" y="268.1" font-size="33.5" textLength="19.4" lengthAdjust="spacingAndGlyphs">0</text>
<text x="1615.5" y="268.1" font-size="33.5" textLength="9.7" lengthAdjust="spacingAndGlyphs">.</text>
<text x="1625.2" y="268.1" font-size="33.5" textLength="19.4" lengthAdjust="spacingAndGlyphs">9</text>
<text x="1596.2" y="171.0" font-size="33.5" textLength="19.4" lengthAdjust="spacingAndGlyphs">1</text>
<text x="1615.5" y="171.0" font-size="33.5" textLength="9.7" lengthAdjust="spacingAndGlyphs">.</text>
<text x="1625.2" y="171.0" font-size="33.5" textLength="19.4" lengthAdjust="spacingAndGlyphs">0</text>
<text x="2097.8" y="1077.2" font-size="33.5" textLength="24.4" lengthAdjust="spacingAndGlyphs">H</text>
<text x="2122.2" y="1077.2" font-size="33.5" textLength="11.7" lengthAdjust="spacingAndGlyphs">-</text>
<text x="2133.9" y="1077.2" font-size="33.5" textLength="20.6" lengthAdjust="spacingAndGlyphs">b</text>
<text x="2154.5" y="1077.2" font-size="33.5" textLength="19.9" lengthAdjust="spacingAndGlyphs">a</text>
<text x="2174.3" y="1077.2" font-size="33.5" textLength="20.5" lengthAdjust="spacingAndGlyphs">n</text>
<text x="2194.8" y="1077.2" font-size="33.5" textLength="20.6" lengthAdjust="spacingAndGlyphs">d</text>
<text x="2225.7" y="1077.2" font-size="33.5" textLength="31.5" lengthAdjust="spacingAndGlyphs">m</text>
<text x="2257.3" y="1077.2" font-size="33.5" textLength="19.9" lengthAdjust="spacingAndGlyphs">a</text>
<text x="2277.1" y="1077.2" font-size="33.5" textLength="20.6" lengthAdjust="spacingAndGlyphs">g</text>
<text x="2297.7" y="1077.2" font-size="33.5" textLength="20.5" lengthAdjust="spacingAndGlyphs">n</text>
<text x="2318.5" y="1077.2" font-size="33.5" textLength="8.4" lengthAdjust="spacingAndGlyphs">i</text>
<text x="2328.3" y="1077.2" font-size="33.5" textLength="10.5" lengthAdjust="spacingAndGlyphs">t</text>
<text x="2339.9" y="1077.2" font-size="33.5" textLength="20.5" lengthAdjust="spacingAndGlyphs">u</text>
<text x="2360.5" y="1077.2" font-size="33.5" textLength="20.6" lengthAdjust="spacingAndGlyphs">d</text>
<text x="2381.0" y="1077.2" font-size="33.5" textLength="19.9" lengthAdjust="spacingAndGlyphs">e</text>
<g transform="rotate(-90 1574.2 554.3)">
<text x="1483.7" y="554.3" font-size="33.5" textLength="20.6" lengthAdjust="spacingAndGlyphs">S</text>
<text x="1505.3" y="554.3" font-size="33.5" textLength="10.5" lengthAdjust="spacingAndGlyphs">t</text>
<text x="1517.3" y="554.3" font-size="33.5" textLength="12.6" lengthAdjust="spacingAndGlyphs">r</text>
<text x="1530.3" y="554.3" font-size="33.5" textLength="19.9" lengthAdjust="spacingAndGlyphs">e</text>
<text x="1550.2" y="554.3" font-size="33.5" textLength="20.5" lengthAdjust="spacingAndGlyphs">h</text>
<text x="1571.0" y="554.3" font-size="33.5" textLength="8.4" lengthAdjust="spacingAndGlyphs">l</text>
<text x="1590.4" y="554.3" font-size="33.5" textLength="12.6" lengthAdjust="spacingAndGlyphs">r</text>
<text x="1603.3" y="554.3" font-size="33.5" textLength="19.9" lengthAdjust="spacingAndGlyphs">a</text>
<text x="1624.3" y="554.3" font-size="33.5" textLength="10.5" lengthAdjust="spacingAndGlyphs">t</text>
<text x="1636.2" y="554.3" font-size="33.5" textLength="8.4" lengthAdjust="spacingAndGlyphs">i</text>
<text x="1644.9" y="554.3" font-size="33.5" textLength="19.8" lengthAdjust="spacingAndGlyphs">o</text>
</g>
<g fill="none" stroke-width="2.6" stroke-opacity="0.85">
<path d="M1934.2 618.0h20.2M1944.3 607.9v20.2" stroke="#e231f7"/>
<path d="M2366.9 470.6h20.2M2377.0 460.5v20.2" stroke="#e231f7"/>
<path d="M2392.7 788.8h20.2M2402.8 778.7v20.2" stroke="#e231f7"/>
<path d="M2413.8 557.5h20.2M2423.9 547.4v20.2" stroke="#e231f7"/>
<path d="M2416.2 578.5h20.2M2426.3 568.4v20.2" stroke="#e231f7"/>
<path d="M2577.4 760.6h20.2M2587.5 750.5v20.2" stroke="#e231f7"/>
<path d="M2633.6 779.4h20.2M2643.7 769.3v20.2" stroke="#e231f7"/>
<path d="M2715.4 896.8h20.2M2725.5 886.7v20.2" stroke="#e231f7"/>
<path d="M2766.9 945.1h20.2M2777.0 935.0v20.2" stroke="#e231f7"/>
<path d="M2392.7 749.3h20.2M2402.8 739.2v20.2" stroke="#af24f6"/>
<path d="M2577.4 723.1h20.2M2587.5 713.0v20.2" stroke="#af24f6"/>
<path d="M2633.6 744.4h20.2M2643.7 734.3v20.2" stroke="#af24f6"/>
<path d="M2715.4 875.5h20.2M2725.5 865.4v20.2" stroke="#af24f6"/>
<path d="M2766.9 928.8h20.2M2777.0 918.7v20.2" stroke="#af24f6"/>
<path d="M1714.2 370.2h20.2M1724.3 360.1v20.2" stroke="#7414f5"/>
<path d="M1934.2 563.0h20.2M1944.3 552.9v20.2" stroke="#7414f5"/>
<path d="M2366.9 433.1h20.2M2377.0 423.0v20.2" stroke="#7414f5"/>
<path d="M2413.8 508.8h20.2M2423.9 498.7v20.2" stroke="#7414f5"/>
<path d="M2413.8 489.0h20.2M2423.9 478.9v20.2" stroke="#7414f5"/>
<path d="M2577.4 704.5h20.2M2587.5 694.4v20.2" stroke="#7414f5"/>
<path d="M2633.6 730.6h20.2M2643.7 720.5v20.2" stroke="#7414f5"/>
<path d="M2715.4 863.6h20.2M2725.5 853.5v20.2" stroke="#7414f5"/>
<path d="M2766.9 916.7h20.2M2777.0 906.6v20.2" stroke="#7414f5"/>
<path d="M2392.7 727.2h20.2M2402.8 717.1v20.2" stroke="#550cf5"/>
<path d="M2413.8 509.8h20.2M2423.9 499.7v20.2" stroke="#550cf5"/>
<path d="M1714.2 384.3h20.2M1724.3 374.2v20.2" stroke="#2603f5"/>
<path d="M1714.2 356.9h20.2M1724.3 346.8v20.2" stroke="#2603f5"/>
<path d="M1934.2 560.3h20.2M1944.3 550.2v20.2" stroke="#2603f5"/>
<path d="M1934.2 530.9h20.2M1944.3 520.8v20.2" stroke="#2603f5"/>
<path d="M2366.9 414.3h20.2M2377.0 404.2v20.2" stroke="#2603f5"/>
<path d="M2366.9 405.0h20.2M2377.0 394.9v20.2" stroke="#2603f5"/>
<path d="M2392.7 721.7h20.2M2402.8 711.6v20.2" stroke="#2603f5"/>
<path d="M2413.8 474.3h20.2M2423.9 464.2v20.2" stroke="#2603f5"/>
<path d="M2416.2 520.6h20.2M2426.3 510.5v20.2" stroke="#2603f5"/>
<path d="M2416.2 517.6h20.2M2426.3 507.5v20.2" stroke="#2603f5"/>
<path d="M2416.2 508.8h20.2M2426.3 498.7v20.2" stroke="#2603f5"/>
<path d="M2577.4 688.2h20.2M2587.5 678.1v20.2" stroke="#2603f5"/>
<path d="M2633.6 716.5h20.2M2643.7 706.4v20.2" stroke="#2603f5"/>
<path d="M2715.4 846.9h20.2M2725.5 836.8v20.2" stroke="#2603f5"/>
<path d="M2766.9 905.7h20.2M2777.0 895.6v20.2" stroke="#2603f5"/>
<path d="M1714.2 403.1h20.2M1724.3 393.0v20.2" stroke="#0700f5"/>
<path d="M1714.2 396.2h20.2M1724.3 386.1v20.2" stroke="#0700f5"/>
<path d="M1934.2 561.7h20.2M1944.3 551.6v20.2" stroke="#0700f5"/>
<path d="M1934.2 529.3h20.2M1944.3 519.2v20.2" stroke="#0700f5"/>
<path d="M2366.9 412.3h20.2M2377.0 402.2v20.2" stroke="#0700f5"/>
<path d="M2392.7 721.7h20.2M2402.8 711.6v20.2" stroke="#0700f5"/>
<path d="M2392.7 716.3h20.2M2402.8 706.2v20.2" stroke="#0700f5"/>
<path d="M2413.8 473.3h20.2M2423.9 463.2v20.2" stroke="#0700f5"/>
<path d="M2416.2 521.6h20.2M2426.3 511.5v20.2" stroke="#0700f5"/>
<path d="M2577.4 683.5h20.2M2587.5 673.4v20.2" stroke="#0700f5"/>
<path d="M2633.6 702.3h20.2M2643.7 692.2v20.2" stroke="#0700f5"/>
<path d="M2715.4 840.6h20.2M2725.5 830.5v20.2" stroke="#0700f5"/>
<path d="M2766.9 901.0h20.2M2777.0 890.9v20.2" stroke="#0700f5"/>
<path d="M2577.4 666.8h20.2M2587.5 656.7v20.2" stroke="#071df5"/>
<path d="M2633.6 678.8h20.2M2643.7 668.7v20.2" stroke="#071df5"/>
<path d="M2715.4 819.6h20.2M2725.5 809.5v20.2" stroke="#071df5"/>
<path d="M2766.9 879.5h20.2M2777.0 869.4v20.2" stroke="#071df5"/>
<path d="M1714.2 356.9h20.2M1724.3 346.8v20.2" stroke="#1e4bf5"/>
<path d="M1934.2 503.1h20.2M1944.3 493.0v20.2" stroke="#1e4bf5"/>
<path d="M2366.9 385.2h20.2M2377.0 375.1v20.2" stroke="#1e4bf5"/>
<path d="M2392.7 660.2h20.2M2402.8 650.1v20.2" stroke="#1e4bf5"/>
<path d="M2413.8 458.8h20.2M2423.9 448.7v20.2" stroke="#1e4bf5"/>
<path d="M2413.8 418.9h20.2M2423.9 408.8v20.2" stroke="#1e4bf5"/>
<path d="M2416.2 482.5h20.2M2426.3 472.4v20.2" stroke="#1e4bf5"/>
<path d="M2577.4 620.4h20.2M2587.5 610.3v20.2" stroke="#1e4bf5"/>
<path d="M2633.6 632.9h20.2M2643.7 622.8v20.2" stroke="#1e4bf5"/>
<path d="M2715.4 774.7h20.2M2725.5 764.6v20.2" stroke="#1e4bf5"/>
<path d="M2766.9 830.3h20.2M2777.0 820.2v20.2" stroke="#1e4bf5"/>
<path d="M1714.2 351.5h20.2M1724.3 341.4v20.2" stroke="#3b86f7"/>
<path d="M1934.2 496.5h20.2M1944.3 486.4v20.2" stroke="#3b86f7"/>
<path d="M2366.9 383.3h20.2M2377.0 373.2v20.2" stroke="#3b86f7"/>
<path d="M2392.7 648.4h20.2M2402.8 638.3v20.2" stroke="#3b86f7"/>
<path d="M2413.8 422.8h20.2M2423.9 412.7v20.2" stroke="#3b86f7"/>
<path d="M2416.2 458.8h20.2M2426.3 448.7v20.2" stroke="#3b86f7"/>
<path d="M2577.4 605.8h20.2M2587.5 595.7v20.2" stroke="#3b86f7"/>
<path d="M2633.6 631.0h20.2M2643.7 620.9v20.2" stroke="#3b86f7"/>
<path d="M2715.4 766.4h20.2M2725.5 756.3v20.2" stroke="#3b86f7"/>
<path d="M2766.9 823.6h20.2M2777.0 813.5v20.2" stroke="#3b86f7"/>
<path d="M1714.2 334.8h20.2M1724.3 324.7v20.2" stroke="#6deafc"/>
<path d="M1934.2 442.9h20.2M1944.3 432.8v20.2" stroke="#6deafc"/>
<path d="M2366.9 351.3h20.2M2377.0 341.2v20.2" stroke="#6deafc"/>
<path d="M2392.7 611.1h20.2M2402.8 601.0v20.2" stroke="#6deafc"/>
<path d="M2413.8 403.1h20.2M2423.9 393.0v20.2" stroke="#6deafc"/>
<path d="M2416.2 398.2h20.2M2426.3 388.1v20.2" stroke="#6deafc"/>
<path d="M2577.4 575.5h20.2M2587.5 565.4v20.2" stroke="#6deafc"/>
<path d="M2633.6 596.4h20.2M2643.7 586.3v20.2" stroke="#6deafc"/>
<path d="M2715.4 729.1h20.2M2725.5 719.0v20.2" stroke="#6deafc"/>
<path d="M2766.9 793.7h20.2M2777.0 783.6v20.2" stroke="#6deafc"/>
<path d="M1714.2 334.8h20.2M1724.3 324.7v20.2" stroke="#75fbb1"/>
<path d="M1934.2 428.5h20.2M1944.3 418.4v20.2" stroke="#75fbb1"/>
<path d="M2366.9 337.4h20.2M2377.0 327.3v20.2" stroke="#75fbb1"/>
<path d="M2392.7 604.2h20.2M2402.8 594.1v20.2" stroke="#75fbb1"/>
<path d="M2413.8 389.3h20.2M2423.9 379.2v20.2" stroke="#75fbb1"/>
<path d="M2416.2 389.3h20.2M2426.3 379.2v20.2" stroke="#75fbb1"/>
<path d="M2577.4 563.5h20.2M2587.5 553.4v20.2" stroke="#75fbb1"/>
<path d="M2633.6 578.5h20.2M2643.7 568.4v20.2" stroke="#75fbb1"/>
<path d="M2715.4 717.2h20.2M2725.5 707.1v20.2" stroke="#75fbb1"/>
<path d="M2766.9 782.4h20.2M2777.0 772.3v20.2" stroke="#75fbb1"/>
<path d="M2392.7 536.8h20.2M2402.8 526.7v20.2" stroke="#75fb68"/>
<path d="M2577.4 514.9h20.2M2587.5 504.8v20.2" stroke="#75fb68"/>
<path d="M2633.6 527.9h20.2M2643.7 517.8v20.2" stroke="#75fb68"/>
<path d="M2715.4 659.3h20.2M2725.5 649.2v20.2" stroke="#75fb68"/>
<path d="M2766.9 728.2h20.2M2777.0 718.1v20.2" stroke="#75fb68"/>
<path d="M1714.2 307.4h20.2M1724.3 297.3v20.2" stroke="#77fb4c"/>
<path d="M1714.2 300.1h20.2M1724.3 290.0v20.2" stroke="#77fb4c"/>
<path d="M1714.2 283.4h20.2M1724.3 273.3v20.2" stroke="#77fb4c"/>
<path d="M1934.2 383.2h20.2M1944.3 373.1v20.2" stroke="#77fb4c"/>
<path d="M1934.2 381.1h20.2M1944.3 371.0v20.2" stroke="#77fb4c"/>
<path d="M1934.2 378.8h20.2M1944.3 368.7v20.2" stroke="#77fb4c"/>
<path d="M1934.2 335.3h20.2M1944.3 325.2v20.2" stroke="#77fb4c"/>
<path d="M2366.9 306.7h20.2M2377.0 296.6v20.2" stroke="#77fb4c"/>
<path d="M2366.9 304.8h20.2M2377.0 294.7v20.2" stroke="#77fb4c"/>
<path d="M2366.9 257.8h20.2M2377.0 247.7v20.2" stroke="#77fb4c"/>
<path d="M2392.7 526.9h20.2M2402.8 516.8v20.2" stroke="#77fb4c"/>
<path d="M2392.7 509.7h20.2M2402.8 499.6v20.2" stroke="#77fb4c"/>
<path d="M2392.7 506.8h20.2M2402.8 496.7v20.2" stroke="#77fb4c"/>
<path d="M2413.8 345.6h20.2M2423.9 335.5v20.2" stroke="#77fb4c"/>
<path d="M2413.8 335.4h20.2M2423.9 325.3v20.2" stroke="#77fb4c"/>
<path d="M2413.8 300.2h20.2M2423.9 290.1v20.2" stroke="#77fb4c"/>
<path d="M2413.8 295.3h20.2M2423.9 285.2v20.2" stroke="#77fb4c"/>
<path d="M2413.8 289.4h20.2M2423.9 279.3v20.2" stroke="#77fb4c"/>
<path d="M2416.2 363.2h20.2M2426.3 353.1v20.2" stroke="#77fb4c"/>
<path d="M2416.2 349.8h20.2M2426.3 339.7v20.2" stroke="#77fb4c"/>
<path d="M2416.2 336.9h20.2M2426.3 326.8v20.2" stroke="#77fb4c"/>
<path d="M2577.4 508.1h20.2M2587.5 498.0v20.2" stroke="#77fb4c"/>
<path d="M2577.4 500.7h20.2M2587.5 490.6v20.2" stroke="#77fb4c"/>
<path d="M2577.4 488.7h20.2M2587.5 478.6v20.2" stroke="#77fb4c"/>
<path d="M2577.4 396.1h20.2M2587.5 386.0v20.2" stroke="#77fb4c"/>
<path d="M2633.6 519.8h20.2M2643.7 509.7v20.2" stroke="#77fb4c"/>
<path d="M2633.6 508.1h20.2M2643.7 498.0v20.2" stroke="#77fb4c"/>
<path d="M2633.6 488.7h20.2M2643.7 478.6v20.2" stroke="#77fb4c"/>
<path d="M2633.6 400.1h20.2M2643.7 390.0v20.2" stroke="#77fb4c"/>
<path d="M2715.4 651.3h20.2M2725.5 641.2v20.2" stroke="#77fb4c"/>
<path d="M2715.4 639.9h20.2M2725.5 629.8v20.2" stroke="#77fb4c"/>
<path d="M2715.4 617.1h20.2M2725.5 607.0v20.2" stroke="#77fb4c"/>
<path d="M2766.9 713.9h20.2M2777.0 703.8v20.2" stroke="#77fb4c"/>
<path d="M2766.9 692.6h20.2M2777.0 682.5v20.2" stroke="#77fb4c"/>
<path d="M2366.9 279.1h20.2M2377.0 269.0v20.2" stroke="#b1fc4f"/>
<path d="M2392.7 428.8h20.2M2402.8 418.7v20.2" stroke="#b1fc4f"/>
<path d="M2392.7 412.9h20.2M2402.8 402.8v20.2" stroke="#b1fc4f"/>
<path d="M2413.8 341.0h20.2M2423.9 330.9v20.2" stroke="#b1fc4f"/>
<path d="M2416.2 343.8h20.2M2426.3 333.7v20.2" stroke="#b1fc4f"/>
<path d="M2577.4 414.8h20.2M2587.5 404.7v20.2" stroke="#b1fc4f"/>
<path d="M2633.6 408.8h20.2M2643.7 398.7v20.2" stroke="#b1fc4f"/>
<path d="M2715.4 494.7h20.2M2725.5 484.6v20.2" stroke="#b1fc4f"/>
<path d="M2766.9 567.2h20.2M2777.0 557.1v20.2" stroke="#b1fc4f"/>
<path d="M1714.2 269.6h20.2M1724.3 259.5v20.2" stroke="#ddfe52"/>
<path d="M1934.2 362.0h20.2M1944.3 351.9v20.2" stroke="#ddfe52"/>
<path d="M2366.9 267.2h20.2M2377.0 257.1v20.2" stroke="#ddfe52"/>
<path d="M2392.7 411.0h20.2M2402.8 400.9v20.2" stroke="#ddfe52"/>
<path d="M2416.2 328.3h20.2M2426.3 318.2v20.2" stroke="#ddfe52"/>
<path d="M2577.4 392.1h20.2M2587.5 382.0v20.2" stroke="#ddfe52"/>
<path d="M2633.6 393.8h20.2M2643.7 383.7v20.2" stroke="#ddfe52"/>
<path d="M2715.4 486.4h20.2M2725.5 476.3v20.2" stroke="#ddfe52"/>
<path d="M2766.9 555.6h20.2M2777.0 545.5v20.2" stroke="#ddfe52"/>
<path d="M1714.2 311.5h20.2M1724.3 301.4v20.2" stroke="#fdf351"/>
<path d="M1714.2 304.3h20.2M1724.3 294.2v20.2" stroke="#fdf351"/>
<path d="M1934.2 356.0h20.2M1944.3 345.9v20.2" stroke="#fdf351"/>
<path d="M2366.9 252.9h20.2M2377.0 242.8v20.2" stroke="#fdf351"/>
<path d="M2392.7 393.6h20.2M2402.8 383.5v20.2" stroke="#fdf351"/>
<path d="M2416.2 309.2h20.2M2426.3 299.1v20.2" stroke="#fdf351"/>
<path d="M2577.4 356.2h20.2M2587.5 346.1v20.2" stroke="#fdf351"/>
<path d="M2633.6 353.6h20.2M2643.7 343.5v20.2" stroke="#fdf351"/>
<path d="M2715.4 428.8h20.2M2725.5 418.7v20.2" stroke="#fdf351"/>
<path d="M2766.9 484.7h20.2M2777.0 474.6v20.2" stroke="#fdf351"/>
<path d="M1934.2 325.8h20.2M1944.3 315.7v20.2" stroke="#f2a63b"/>
<path d="M2366.9 234.5h20.2M2377.0 224.4v20.2" stroke="#f2a63b"/>
<path d="M2392.7 328.3h20.2M2402.8 318.2v20.2" stroke="#f2a63b"/>
<path d="M2413.8 271.0h20.2M2423.9 260.9v20.2" stroke="#f2a63b"/>
<path d="M2416.2 274.2h20.2M2426.3 264.1v20.2" stroke="#f2a63b"/>
<path d="M2577.4 341.6h20.2M2587.5 331.5v20.2" stroke="#f2a63b"/>
<path d="M2633.6 309.0h20.2M2643.7 298.9v20.2" stroke="#f2a63b"/>
<path d="M2715.4 367.6h20.2M2725.5 357.5v20.2" stroke="#f2a63b"/>
<path d="M2766.9 444.8h20.2M2777.0 434.7v20.2" stroke="#f2a63b"/>
<path d="M1714.2 238.7h20.2M1724.3 228.6v20.2" stroke="#ed772f"/>
<path d="M1934.2 297.8h20.2M1944.3 287.7v20.2" stroke="#ed772f"/>
<path d="M2366.9 197.0h20.2M2377.0 186.9v20.2" stroke="#ed772f"/>
<path d="M2392.7 285.4h20.2M2402.8 275.3v20.2" stroke="#ed772f"/>
<path d="M2416.2 292.7h20.2M2426.3 282.6v20.2" stroke="#ed772f"/>
<path d="M1714.2 234.6h20.2M1724.3 224.5v20.2" stroke="#eb4826"/>
<path d="M1934.2 309.2h20.2M1944.3 299.1v20.2" stroke="#eb4826"/>
<path d="M2366.9 173.5h20.2M2377.0 163.4v20.2" stroke="#eb4826"/>
<path d="M2392.7 313.7h20.2M2402.8 303.6v20.2" stroke="#eb4826"/>
<path d="M2416.2 262.3h20.2M2426.3 252.2v20.2" stroke="#eb4826"/>
<path d="M2577.4 159.3h20.2M2587.5 149.2v20.2" stroke="#eb4826"/>
<path d="M1714.2 262.7h20.2M1724.3 252.6v20.2" stroke="#ea3624"/>
<path d="M2413.8 202.1h20.2M2423.9 192.0v20.2" stroke="#ea3624"/>
<path d="M2416.2 203.1h20.2M2426.3 193.0v20.2" stroke="#ea3624"/>
</g>
</g>
</svg></body></html>
